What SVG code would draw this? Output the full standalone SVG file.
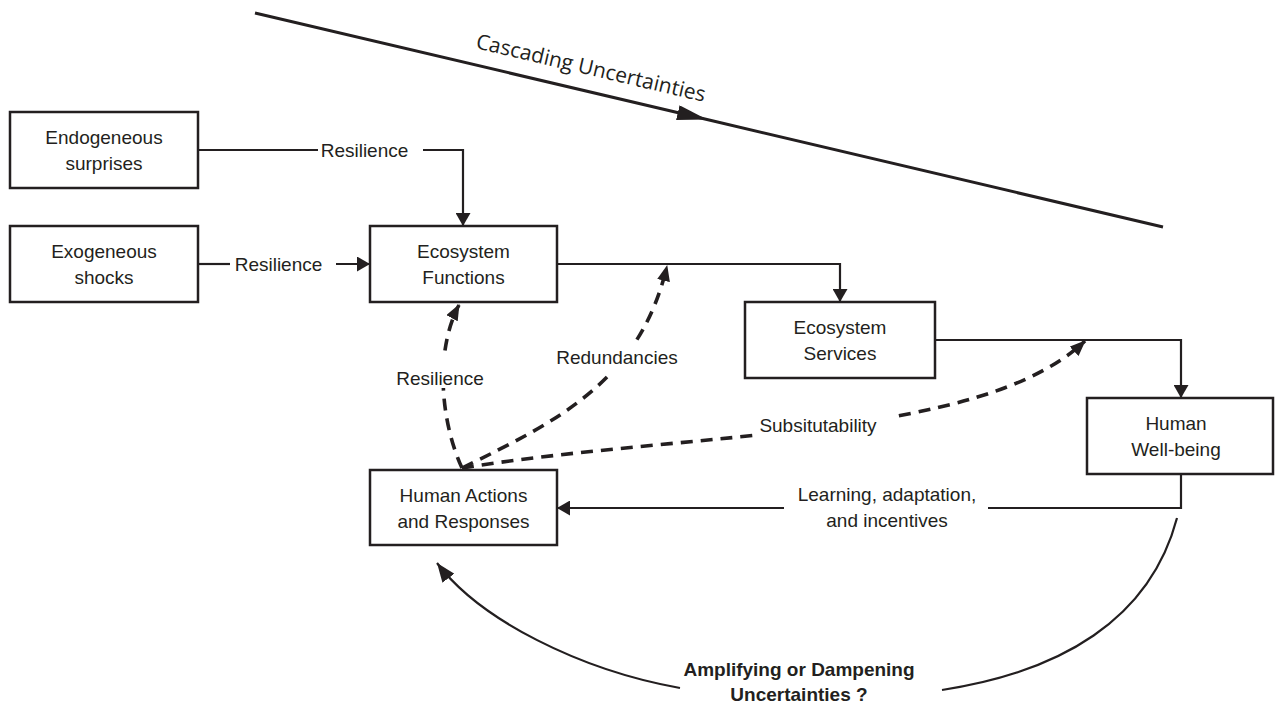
<svg xmlns="http://www.w3.org/2000/svg" width="1275" height="705" viewBox="0 0 1275 705">
<style>
.box{fill:#fff;stroke:#231f20;stroke-width:2.5}
.t{font-family:"Liberation Sans",Arial,sans-serif;font-size:19px;fill:#231f20;text-anchor:middle}
.b{font-weight:bold}
.ln{fill:none;stroke:#231f20;stroke-width:2.2}
.ds{fill:none;stroke:#231f20;stroke-width:3.6;stroke-dasharray:12 8}
.bg{fill:#fff}
</style>
<defs>
<marker id="ah" viewBox="0 0 13 15" refX="13" refY="7.5" markerWidth="13" markerHeight="15" markerUnits="userSpaceOnUse" orient="auto"><path d="M0,0 L13,7.5 L0,15 z" fill="#231f20"/></marker>
<marker id="ahd" viewBox="0 0 16 13" refX="15" refY="6.5" markerWidth="16" markerHeight="13" markerUnits="userSpaceOnUse" orient="auto"><path d="M0,0 L16,6.5 L0,13 z" fill="#231f20"/></marker>
<marker id="ahc" viewBox="0 0 19 15" refX="19" refY="7.5" markerWidth="19" markerHeight="15" markerUnits="userSpaceOnUse" orient="auto"><path d="M0,0 L19,7.5 L0,15 z" fill="#231f20"/></marker>
<marker id="ahb" viewBox="0 0 30 15" refX="30" refY="7.5" markerWidth="30" markerHeight="15" markerUnits="userSpaceOnUse" orient="auto"><path d="M0,0 L30,7.5 L0,15 z" fill="#231f20"/></marker>
</defs>
<rect width="1275" height="705" fill="#fff"/>

<g id="connectors">
  <!-- cascading uncertainties -->
  <path d="M255,13 L707,119.5 L1163,227" fill="none" stroke="#231f20" stroke-width="3" marker-mid="url(#ahb)"/>
  <text transform="translate(475,48) rotate(13.26)" style="font-family:'Open Sans','Noto Sans',sans-serif;font-size:21px;fill:#231f20">Cascading Uncertainties</text>

  <!-- Endogeneous -> EF -->
  <path class="ln" d="M198,150 H318"/>
  <path class="ln" d="M423,150 H463 V226" marker-end="url(#ah)"/>
  <text class="t" x="364.5" y="157">Resilience</text>

  <!-- Exogeneous -> EF -->
  <path class="ln" d="M198,264 H230"/>
  <path class="ln" d="M336,264 H370" marker-end="url(#ah)"/>
  <text class="t" x="278.5" y="271">Resilience</text>

  <!-- EF -> ES -->
  <path class="ln" d="M557,264 H840 V302" marker-end="url(#ah)"/>
  <!-- ES -> HW -->
  <path class="ln" d="M935,340 H1181 V398" marker-end="url(#ah)"/>

  <!-- HW -> HAR -->
  <path class="ln" d="M1181,474 V508 H988"/>
  <path class="ln" d="M784,508 H557" marker-end="url(#ah)"/>
  <text class="t" x="887" y="501">Learning, adaptation,</text>
  <text class="t" x="887" y="527">and incentives</text>

  <!-- dashed feedbacks -->
  <path class="ds" d="M462,468 C440,420 435,350 459,305" marker-end="url(#ahd)"/>
  <path class="ds" d="M462,468 C560,420 640,380 667,266" marker-end="url(#ahd)"/>
  <path class="ds" d="M462,468 C700,430 980,440 1085,341" marker-end="url(#ahd)"/>
  <rect class="bg" x="394" y="356" width="92" height="32"/>
  <rect class="bg" x="554" y="345" width="126" height="30"/>
  <rect class="bg" x="753" y="414" width="143" height="26"/>
  <text class="t" x="440" y="385">Resilience</text>
  <text class="t" x="617" y="364">Redundancies</text>
  <text class="t" x="818" y="432">Subsitutability</text>

  <!-- amplifying / dampening loop -->
  <path class="ln" d="M1177,518 C1150,620 1060,672 942,690"/>
  <path class="ln" d="M680,688 C580,670 480,620 437,563" marker-end="url(#ahc)"/>
  <text class="t b" x="799" y="676">Amplifying or Dampening</text>
  <text class="t b" x="799" y="701">Uncertainties ?</text>
</g>

<g id="endogeneous">
  <rect class="box" x="10" y="112" width="188" height="76"/>
  <text class="t" x="104" y="144">Endogeneous</text>
  <text class="t" x="104" y="170">surprises</text>
</g>
<g id="exogeneous">
  <rect class="box" x="10" y="226" width="188" height="76"/>
  <text class="t" x="104" y="258">Exogeneous</text>
  <text class="t" x="104" y="284">shocks</text>
</g>
<g id="ecosystem-functions">
  <rect class="box" x="370" y="226" width="187" height="76"/>
  <text class="t" x="463.5" y="258">Ecosystem</text>
  <text class="t" x="463.5" y="284">Functions</text>
</g>
<g id="ecosystem-services">
  <rect class="box" x="745" y="302" width="190" height="76"/>
  <text class="t" x="840" y="334">Ecosystem</text>
  <text class="t" x="840" y="360">Services</text>
</g>
<g id="human-wellbeing">
  <rect class="box" x="1087" y="398" width="186" height="76"/>
  <text class="t" x="1176" y="430">Human</text>
  <text class="t" x="1176" y="456">Well-being</text>
</g>
<g id="human-actions">
  <rect class="box" x="370" y="470" width="187" height="75"/>
  <text class="t" x="463.5" y="502">Human Actions</text>
  <text class="t" x="463.5" y="528">and Responses</text>
</g>
</svg>
